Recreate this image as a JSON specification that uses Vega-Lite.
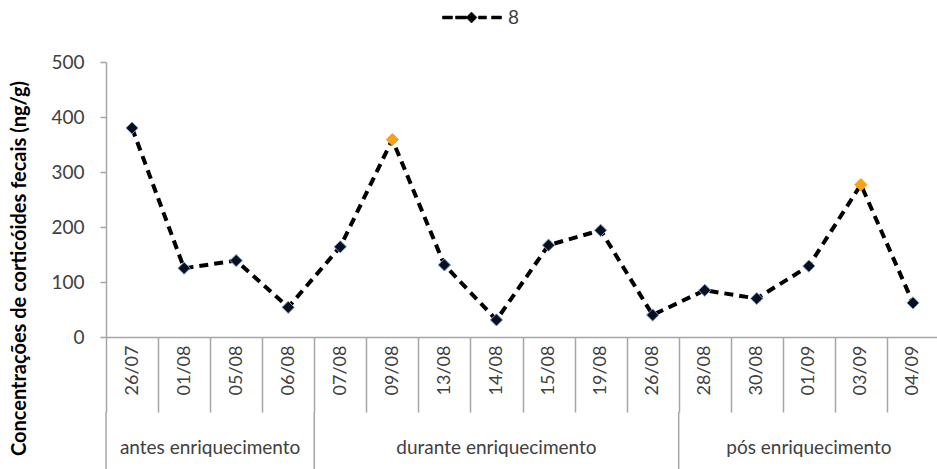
{
  "$schema": "https://vega.github.io/schema/vega-lite/v6.json",
  "background": "white",
  "padding": {"left": 8, "top": 7, "right": 0, "bottom": 0},
  "config": {
    "view": {"stroke": null},
    "font": "Lato",
    "text": {"font": "Lato"}
  },
  "datasets": {
    "pontos": [
      {"data": "26/07", "valor": 380, "serie": "8"},
      {"data": "01/08", "valor": 125, "serie": "8"},
      {"data": "05/08", "valor": 139, "serie": "8"},
      {"data": "06/08", "valor": 54, "serie": "8"},
      {"data": "07/08", "valor": 164, "serie": "8"},
      {"data": "09/08", "valor": 359, "serie": "8"},
      {"data": "13/08", "valor": 131, "serie": "8"},
      {"data": "14/08", "valor": 31, "serie": "8"},
      {"data": "15/08", "valor": 167, "serie": "8"},
      {"data": "19/08", "valor": 194, "serie": "8"},
      {"data": "26/08", "valor": 40, "serie": "8"},
      {"data": "28/08", "valor": 85, "serie": "8"},
      {"data": "30/08", "valor": 70, "serie": "8"},
      {"data": "01/09", "valor": 129, "serie": "8"},
      {"data": "03/09", "valor": 277, "serie": "8"},
      {"data": "04/09", "valor": 62, "serie": "8"}
    ],
    "grupos": [
      {"grupo": "antes enriquecimento", "inicio": 0, "fim": 4},
      {"grupo": "durante enriquecimento", "inicio": 4, "fim": 11},
      {"grupo": "pós enriquecimento", "inicio": 11, "fim": 16}
    ]
  },
  "bounds": "flush",
  "spacing": 75,
  "resolve": {"scale": {"color": "independent"}, "legend": {"color": "independent"}},
  "vconcat": [
    {
      "width": 833,
      "height": 275,
      "data": {"name": "pontos"},
      "encoding": {
        "x": {
          "field": "data",
          "type": "ordinal",
          "sort": null,
          "scale": {"paddingInner": 0, "paddingOuter": 0},
          "axis": {
            "title": null,
            "labelAngle": -90,
            "labelFont": "Lato",
            "labelFontSize": 18,
            "labelColor": "#404040",
            "labelPadding": -67,
            "tickBand": "extent",
            "tickSize": 75,
            "tickColor": "#a6a6a6",
            "tickWidth": 1.5,
            "domainColor": "#a6a6a6",
            "domainWidth": 1.5
          }
        },
        "y": {
          "field": "valor",
          "type": "quantitative",
          "scale": {"domain": [0, 500], "nice": false},
          "axis": {
            "title": "Concentrações de corticóides fecais  (ng/g)",
            "titleFont": "Lato",
            "titleFontSize": 20,
            "titleFontWeight": "bold",
            "titleColor": "#000000",
            "titleAngle": -90,
            "titleBaseline": "middle",
            "titleX": -87,
            "titleY": 206,
            "values": [0, 100, 200, 300, 400, 500],
            "grid": false,
            "labelFont": "Lato",
            "labelFontSize": 19,
            "labelColor": "#404040",
            "labelPadding": 16,
            "tickSize": 6,
            "tickColor": "#a6a6a6",
            "tickWidth": 1.5,
            "domainColor": "#a6a6a6",
            "domainWidth": 1.5
          }
        }
      },
      "layer": [
        {
          "mark": {"type": "line", "strokeWidth": 4, "strokeDash": [9, 6]},
          "encoding": {
            "color": {
              "field": "serie",
              "type": "nominal",
              "scale": {"domain": ["8"], "range": ["#000000"]},
              "legend": {
                "title": null,
                "orient": "none",
                "legendX": 336,
                "legendY": -55,
                "symbolType": "M-1,-0.15L0,-0.15L0,0.15L-1,0.15Z M0.3,-0.15L1.4,-0.15L1.4,0.15L0.3,0.15Z M1.9,-0.55L2.45,0L1.9,0.55L1.35,0Z M2.6,-0.15L3.4,-0.15L3.4,0.15L2.6,0.15Z M3.9,-0.15L4.9,-0.15L4.9,0.15L3.9,0.15Z",
                "symbolSize": 400,
                "labelFont": "Lato",
                "labelFontSize": 19,
                "labelColor": "#404040",
                "labelOffset": 45,
                "encode": {
                  "symbols": {
                    "update": {
                      "fill": {"value": "#000000"},
                      "stroke": {"value": "#000000"},
                      "strokeWidth": {"value": 0.5},
                      "strokeDash": {"value": []}
                    }
                  }
                }
              }
            }
          }
        },
        {
          "mark": {"type": "point", "shape": "diamond", "filled": true, "size": 150, "strokeWidth": 1, "opacity": 1},
          "encoding": {
            "fill": {
              "condition": {"test": "datum.data === '09/08' || datum.data === '03/09'", "value": "#f9a11b"},
              "value": "#0a0f1e"
            },
            "stroke": {
              "condition": {"test": "datum.data === '09/08' || datum.data === '03/09'", "value": "#f9a11b"},
              "value": "#7a9fd4"
            }
          }
        }
      ]
    },
    {
      "width": 833,
      "height": 57,
      "data": {"name": "grupos"},
      "transform": [{"calculate": "(datum.inicio + datum.fim) / 2", "as": "meio"}],
      "layer": [
        {
          "mark": {"type": "rule", "color": "#a6a6a6", "strokeWidth": 1.5},
          "encoding": {
            "x": {"field": "inicio", "type": "quantitative", "scale": {"domain": [0, 16], "nice": false, "zero": false}, "axis": null}
          }
        },
        {
          "mark": {"type": "text", "font": "Lato", "fontSize": 19, "color": "#404040", "dy": 7},
          "encoding": {
            "x": {"field": "meio", "type": "quantitative"},
            "text": {"field": "grupo"}
          }
        }
      ]
    }
  ]
}
